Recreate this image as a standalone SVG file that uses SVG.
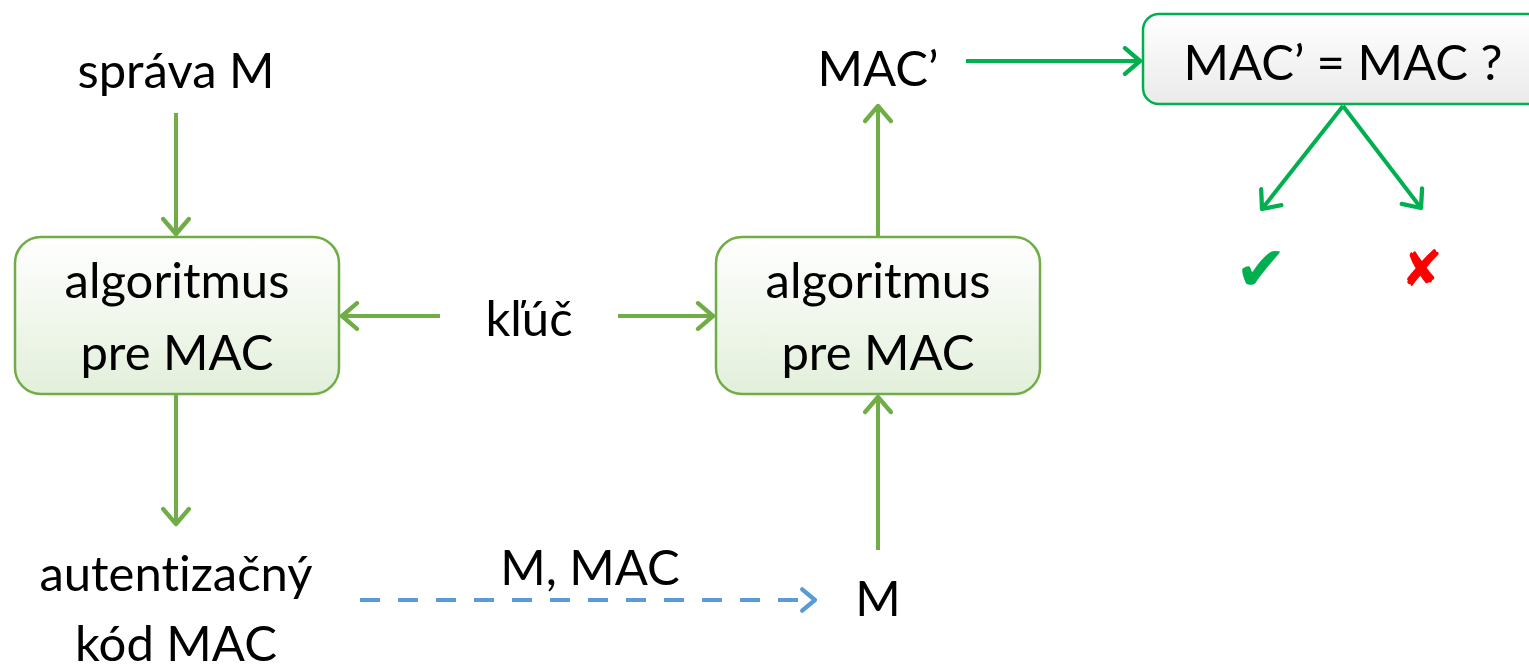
<svg xmlns="http://www.w3.org/2000/svg" width="1529" height="670" viewBox="0 0 1529 670">
<style>
.t{font-family:Lato,"Open Sans","Liberation Sans",sans-serif;font-size:49px;fill:#000;text-anchor:middle;font-variant-ligatures:none}
.g{stroke:#70AD47;stroke-width:4;fill:none}
.dg{stroke:#00B050;stroke-width:4;fill:none}
.b{stroke:#5B9BD5;stroke-width:4;fill:none;stroke-dasharray:20 18}
.box{stroke:#70AD47;stroke-width:2.5;fill:url(#gg)}
.box3{stroke:#00B050;stroke-width:2.5;fill:url(#gw)}
</style>
<defs>
<linearGradient id="gg" x1="0" y1="0" x2="0" y2="1"><stop offset="0" stop-color="#FFFFFF"/><stop offset="1" stop-color="#E2EFDA"/></linearGradient>
<linearGradient id="gw" x1="0" y1="0" x2="0" y2="1"><stop offset="0" stop-color="#FFFFFF"/><stop offset="1" stop-color="#EAEAEA"/></linearGradient>
<marker id="ag" markerUnits="userSpaceOnUse" markerWidth="30" markerHeight="30" viewBox="-16 -14 20 28" refX="0" refY="0" orient="auto"><path d="M-14,-12 L0,0 L-14,12" fill="none" stroke="#70AD47" stroke-width="4" stroke-linecap="round" stroke-linejoin="round"/></marker>
<marker id="adg" markerUnits="userSpaceOnUse" markerWidth="30" markerHeight="30" viewBox="-16 -14 20 28" refX="0" refY="0" orient="auto"><path d="M-14,-12 L0,0 L-14,12" fill="none" stroke="#00B050" stroke-width="4" stroke-linecap="round" stroke-linejoin="round"/></marker>
<marker id="ab" markerUnits="userSpaceOnUse" markerWidth="30" markerHeight="30" viewBox="-16 -14 20 28" refX="0" refY="0" orient="auto"><path d="M-12,-10 L0,0 L-12,10" fill="none" stroke="#5B9BD5" stroke-width="4" stroke-linecap="round" stroke-linejoin="round"/></marker>
</defs>
<g id="connectors">
<line class="g" x1="176" y1="113" x2="176" y2="234" marker-end="url(#ag)"/>
<line class="g" x1="176" y1="395" x2="176" y2="524" marker-end="url(#ag)"/>
<line class="g" x1="440" y1="316" x2="342" y2="316" marker-end="url(#ag)"/>
<line class="g" x1="618" y1="316" x2="713" y2="316" marker-end="url(#ag)"/>
<line class="g" x1="878" y1="550" x2="878" y2="397" marker-end="url(#ag)"/>
<line class="g" x1="878" y1="236" x2="878" y2="106" marker-end="url(#ag)"/>
<line class="dg" x1="966" y1="61" x2="1140" y2="61" marker-end="url(#adg)"/>
<line class="dg" x1="1343" y1="106" x2="1262" y2="209" marker-end="url(#adg)"/>
<line class="dg" x1="1343" y1="106" x2="1421" y2="208" marker-end="url(#adg)"/>
<line class="b" x1="360" y1="600" x2="815" y2="600" marker-end="url(#ab)"/>
</g>
<g id="sprava"><text class="t" x="176" y="88">správa M</text></g>
<g id="alg1">
<rect class="box" x="15" y="237" width="324" height="157" rx="26"/>
<text class="t" x="177" y="298">algoritmus</text>
<text class="t" x="177" y="370">pre MAC</text>
</g>
<g id="mac"><text class="t" x="176" y="591">autentizačný</text><text class="t" x="176" y="661">kód MAC</text></g>
<g id="kluc"><text class="t" x="529" y="336">kľúč</text></g>
<g id="alg2">
<rect class="box" x="716" y="237" width="324" height="157" rx="26"/>
<text class="t" x="878" y="298">algoritmus</text>
<text class="t" x="878" y="370">pre MAC</text>
</g>
<g id="m"><text class="t" x="878" y="616">M</text></g>
<g id="mmac"><text class="t" x="590" y="585">M, MAC</text></g>
<g id="macp"><text class="t" x="878" y="86">MAC’</text></g>
<g id="cmp">
<rect class="box3" x="1143" y="14" width="400" height="90" rx="16"/>
<text class="t" x="1343" y="80">MAC’ = MAC ?</text>
</g>
<g id="ok"><text x="1261" y="290" style="font-family:'DejaVu Sans',sans-serif;font-size:62px;fill:#00B050;text-anchor:middle">✔</text></g>
<g id="no"><text x="1422" y="286" style="font-family:'DejaVu Sans',sans-serif;font-size:50px;fill:#FF0000;text-anchor:middle;font-weight:bold">✘</text></g>
</svg>
